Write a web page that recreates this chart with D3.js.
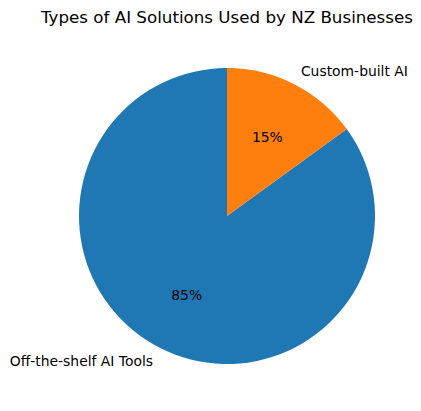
<!DOCTYPE html>
<html><head><meta charset="utf-8">
<script src="https://cdn.jsdelivr.net/npm/d3@7"></script>
<style>body{margin:0;background:#fff}svg{display:block}text{font-family:"DejaVu Sans",sans-serif}</style>
</head><body>
<script>
const categories = ["Off-the-shelf AI Tools", "Custom-built AI"];
const values = [85, 15];
const colors = ["#1f77b4", "#ff7f0e"];
const title = "Types of AI Solutions Used by NZ Businesses";

const W = 421, H = 411, cx = 227, cy = 216, R = 148;
const svg = d3.select("body").append("svg").attr("width", W).attr("height", H);
svg.append("rect").attr("width", W).attr("height", H).attr("fill", "#fff");

svg.append("text").attr("x", cx).attr("y", 23).attr("text-anchor", "middle")
  .attr("font-size", "16.7px").attr("fill", "#000").text(title);

// matplotlib: startangle 90, counterclockwise. d3 angles: 0 at top, clockwise.
const pie = d3.pie().sort(null).value(d => d)
  .startAngle(0).endAngle(-2 * Math.PI);
const arcs = pie(values);
const arc = d3.arc().innerRadius(0).outerRadius(R);
const g = svg.append("g").attr("transform", `translate(${cx},${cy})`);
g.selectAll("path").data(arcs).enter().append("path")
  .attr("d", arc).attr("fill", (d, i) => colors[i]);

const total = d3.sum(values);
arcs.forEach((d, i) => {
  const mid = (d.startAngle + d.endAngle) / 2;
  const sx = Math.sin(mid), sy = -Math.cos(mid);
  g.append("text").attr("x", 1.1 * R * sx).attr("y", 1.1 * R * sy)
    .attr("text-anchor", sx < 0 ? "end" : "start")
    .attr("dominant-baseline", "central").attr("font-size", "13.9px")
    .attr("fill", "#000").text(categories[i]);
  g.append("text").attr("x", 0.6 * R * sx).attr("y", 0.6 * R * sy)
    .attr("text-anchor", "middle").attr("dominant-baseline", "central")
    .attr("font-size", "13.9px").attr("fill", "#000")
    .text(Math.round(values[i] / total * 100) + "%");
});
</script>
</body></html>
